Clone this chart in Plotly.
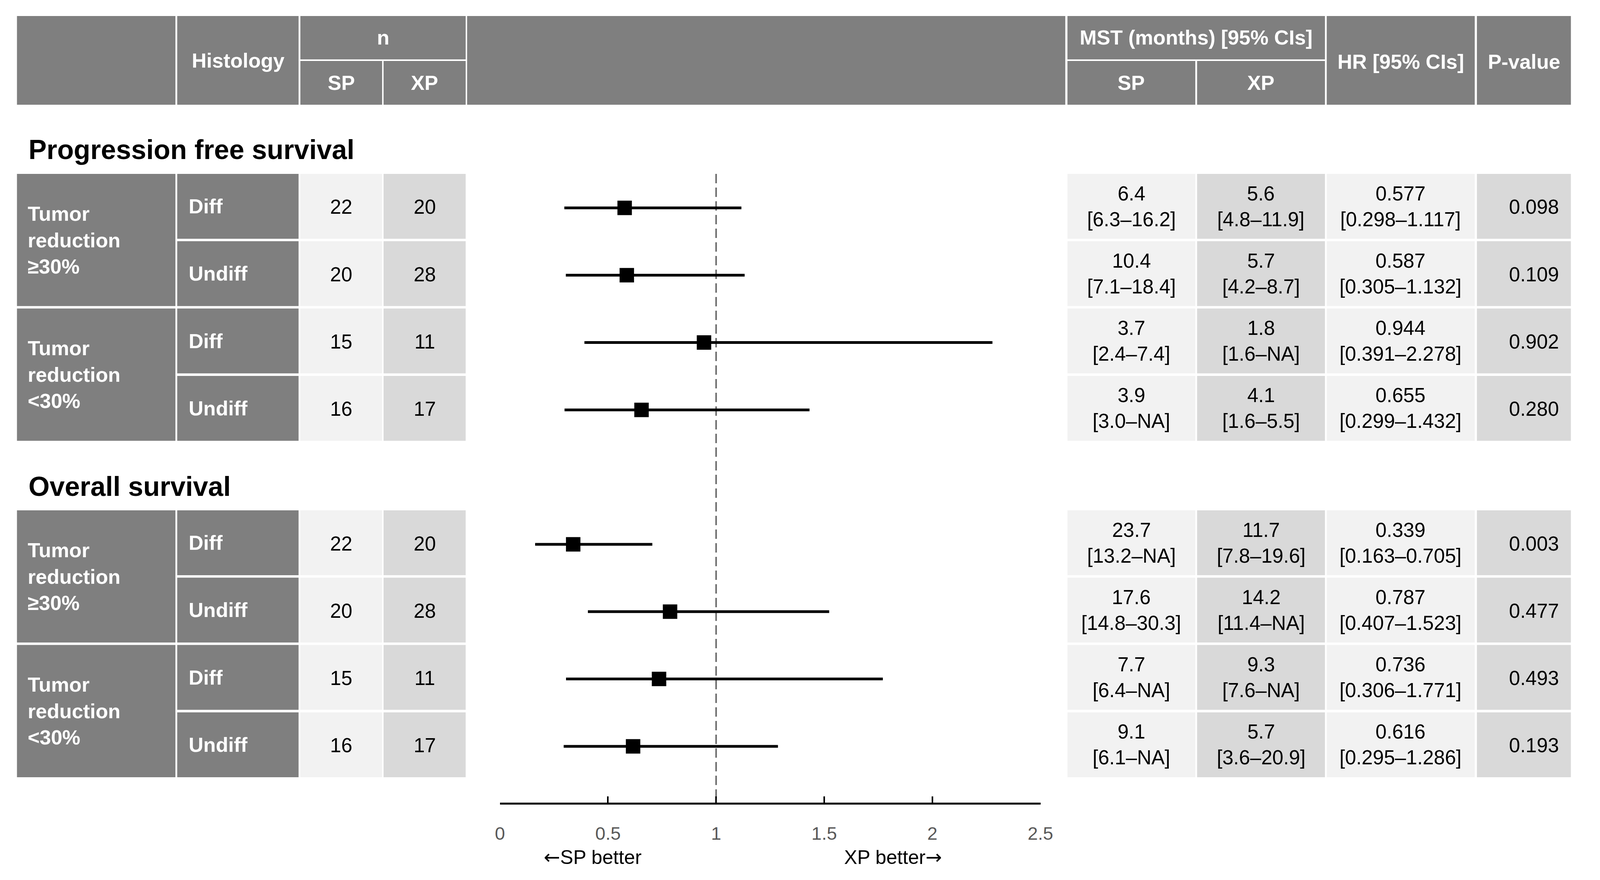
import plotly.graph_objects as go

REF_W, H = 4393, 2252      # layout designed in reference pixel space
W = 4096                   # browser viewport width

# ---------------- data ----------------
groups = ["Tumor<br>reduction<br>≥30%", "Tumor<br>reduction<br>&lt;30%"]
histology = ["Diff", "Undiff", "Diff", "Undiff"]
n_sp = [22, 20, 15, 16]
n_xp = [20, 28, 11, 17]

sections = ["Progression free survival", "Overall survival"]

pfs_mst_sp = ["6.4", "10.4", "3.7", "3.9"]
pfs_mst_sp_ci = ["6.3–16.2", "7.1–18.4", "2.4–7.4", "3.0–NA"]
pfs_mst_xp = ["5.6", "5.7", "1.8", "4.1"]
pfs_mst_xp_ci = ["4.8–11.9", "4.2–8.7", "1.6–NA", "1.6–5.5"]
pfs_hr = [0.577, 0.587, 0.944, 0.655]
pfs_hr_lo = [0.298, 0.305, 0.391, 0.299]
pfs_hr_hi = [1.117, 1.132, 2.278, 1.432]
pfs_p = ["0.098", "0.109", "0.902", "0.280"]

os_mst_sp = ["23.7", "17.6", "7.7", "9.1"]
os_mst_sp_ci = ["13.2–NA", "14.8–30.3", "6.4–NA", "6.1–NA"]
os_mst_xp = ["11.7", "14.2", "9.3", "5.7"]
os_mst_xp_ci = ["7.8–19.6", "11.4–NA", "7.6–NA", "3.6–20.9"]
os_hr = [0.339, 0.787, 0.736, 0.616]
os_hr_lo = [0.163, 0.407, 0.306, 0.295]
os_hr_hi = [0.705, 1.523, 1.771, 1.286]
os_p = ["0.003", "0.477", "0.493", "0.193"]

x_ticks = [0, 0.5, 1, 1.5, 2, 2.5]
x_tick_labels = ["0", "0.5", "1", "1.5", "2", "2.5"]
ref_line = 1
ARROW = '<span style="font-family:DejaVu Sans">%s</span>'
left_label = ARROW % "←" + "SP better"
right_label = "XP better" + ARROW % "→"

# ---------------- layout constants (reference pixels) ----------------
DARK = "#7f7f7f"
LIGHT = "#f2f2f2"
MID = "#d9d9d9"
FONT = "Liberation Sans, Arial, sans-serif"
FS = 0.965  # font scale for the narrower viewport

cols = {
    "c0": (33, 473), "c1": (478, 815), "nsp": (820, 1047), "nxp": (1051, 1279),
    "forest": (1283, 2944), "msp": (2950, 3305), "mxp": (3310, 3665),
    "hr": (3670, 4081), "p": (4087, 4348),
}
HEAD_TOP, HEAD_SPLIT_A, HEAD_SPLIT_B, HEAD_BOT = 41, 152, 156, 268
SEC_TOP = [445, 1306]
SEC_TITLE_Y = [383, 1245]
PITCH, ROW_H = 172.3, 166
AX_Y = 2056
AX_X0, AX_X1 = 1374, 2875


def fx(px):
    return px / REF_W


def fy(py):
    return 1 - py / H


shapes = []
annotations = []


def rect(x0, x1, y0, y1, color):
    shapes.append(dict(type="rect", xref="paper", yref="paper",
                       x0=fx(x0), x1=fx(x1), y0=fy(y1), y1=fy(y0),
                       fillcolor=color, line=dict(width=0), layer="below"))


def text(s, x, y, size=53, color="black", bold=False, anchor="center"):
    if bold:
        s = "<b>" + s + "</b>"
    annotations.append(dict(text=s, xref="paper", yref="paper", x=fx(x), y=fy(y),
                            xanchor=anchor, yanchor="middle", align=anchor,
                            showarrow=False, borderpad=0,
                            font=dict(family=FONT, size=round(size * FS, 1), color=color)))


def cx(key):
    a, b = cols[key]
    return (a + b) / 2


# header
for key in ["c0", "c1", "forest", "hr", "p"]:
    rect(*cols[key], HEAD_TOP, HEAD_BOT, DARK)
rect(cols["nsp"][0], cols["nxp"][1], HEAD_TOP, HEAD_SPLIT_A, DARK)
rect(cols["msp"][0], cols["mxp"][1], HEAD_TOP, HEAD_SPLIT_A, DARK)
for key in ["nsp", "nxp", "msp", "mxp"]:
    rect(*cols[key], HEAD_SPLIT_B, HEAD_BOT, DARK)

hy = (HEAD_TOP + HEAD_BOT) / 2
hy_top = (HEAD_TOP + HEAD_SPLIT_A) / 2
hy_bot = (HEAD_SPLIT_B + HEAD_BOT) / 2
text("Histology", cx("c1"), hy, 54, "white", True)
text("n", (cols["nsp"][0] + cols["nxp"][1]) / 2, hy_top, 54, "white", True)
text("SP", cx("nsp"), hy_bot, 54, "white", True)
text("XP", cx("nxp"), hy_bot, 54, "white", True)
text("MST (months) [95% CIs]", (cols["msp"][0] + cols["mxp"][1]) / 2, hy_top, 54, "white", True)
text("SP", cx("msp"), hy_bot, 54, "white", True)
text("XP", cx("mxp"), hy_bot, 54, "white", True)
text("HR [95% CIs]", cx("hr"), hy + 4, 54, "white", True)
text("P-value", cx("p"), hy + 4, 54, "white", True)

sec_data = [
    (pfs_mst_sp, pfs_mst_sp_ci, pfs_mst_xp, pfs_mst_xp_ci, pfs_hr, pfs_hr_lo, pfs_hr_hi, pfs_p),
    (os_mst_sp, os_mst_sp_ci, os_mst_xp, os_mst_xp_ci, os_hr, os_hr_lo, os_hr_hi, os_p),
]

fx_hr, fy_hr, e_plus, e_minus = [], [], [], []

for s, (msp, mspci, mxp, mxpci, hr, lo, hi, pv) in enumerate(sec_data):
    base = SEC_TOP[s]
    text(sections[s], 64, SEC_TITLE_Y[s], 72, "black", True, "left")
    tops = [base + i * PITCH for i in range(4)]
    for g in range(2):
        y0 = tops[2 * g]
        y1 = tops[2 * g + 1] + ROW_H
        rect(*cols["c0"], y0, y1, DARK)
        text(groups[g], 62, (y0 + y1) / 2, 54, "white", True, "left")
    for i in range(4):
        y0 = tops[i]
        y1 = y0 + ROW_H
        yc = (y0 + y1) / 2
        rect(*cols["c1"], y0, y1, DARK)
        rect(*cols["nsp"], y0, y1, LIGHT)
        rect(*cols["nxp"], y0, y1, MID)
        rect(*cols["msp"], y0, y1, LIGHT)
        rect(*cols["mxp"], y0, y1, MID)
        rect(*cols["hr"], y0, y1, LIGHT)
        rect(*cols["p"], y0, y1, MID)
        text(histology[i], 509, yc, 54, "white", True, "left")
        text(str(n_sp[i]), cx("nsp"), yc + 2, 53)
        text(str(n_xp[i]), cx("nxp"), yc + 2, 53)
        text(msp[i] + "<br>[" + mspci[i] + "]", cx("msp"), yc, 53)
        text(mxp[i] + "<br>[" + mxpci[i] + "]", cx("mxp"), yc, 53)
        text("%.3f<br>[%.3f–%.3f]" % (hr[i], lo[i], hi[i]), cx("hr"), yc, 53)
        text(pv[i], 4316, yc + 2, 53, anchor="right")
        fx_hr.append(hr[i])
        fy_hr.append(yc + 4)
        e_plus.append(hi[i] - hr[i])
        e_minus.append(hr[i] - lo[i])

text(left_label, 1631, 2193, 52)
text(right_label, 2466, 2193, 52)

shapes.append(dict(type="line", xref="x", yref="y", x0=ref_line, x1=ref_line,
                   y0=SEC_TOP[0], y1=AX_Y,
                   line=dict(color="#6b6b6b", width=4, dash="24px,11px"), layer="below"))

fig = go.Figure()
fig.add_trace(go.Scatter(
    x=fx_hr, y=fy_hr, mode="markers",
    marker=dict(symbol="square", size=37, color="black", line=dict(width=0)),
    error_x=dict(type="data", symmetric=False, array=e_plus, arrayminus=e_minus,
                 width=0, thickness=7, color="black"),
    cliponaxis=False, hoverinfo="skip",
))

fig.update_layout(
    width=W, height=H, autosize=False,
    margin=dict(l=0, r=0, t=0, b=0, pad=0),
    paper_bgcolor="white", plot_bgcolor="rgba(0,0,0,0)",
    showlegend=False,
    shapes=shapes, annotations=annotations,
    xaxis=dict(domain=[fx(AX_X0), fx(AX_X1)], range=[0, 2.5], anchor="free",
               position=fy(AX_Y), tickvals=x_ticks, ticktext=x_tick_labels,
               ticks="inside", ticklen=16, tickwidth=4, tickcolor="black",
               showline=True, linewidth=5, linecolor="black",
               showgrid=False, zeroline=False, ticklabelstandoff=34,
               tickfont=dict(family=FONT, size=47, color="#595959"),
               fixedrange=True),
    yaxis=dict(domain=[0, 1], range=[H, 0], visible=False, showgrid=False,
               zeroline=False, fixedrange=True),
)

fig.write_html("out.html", config={"displayModeBar": False},
               post_script="document.body.style.margin='0';document.body.style.overflow='hidden';")
